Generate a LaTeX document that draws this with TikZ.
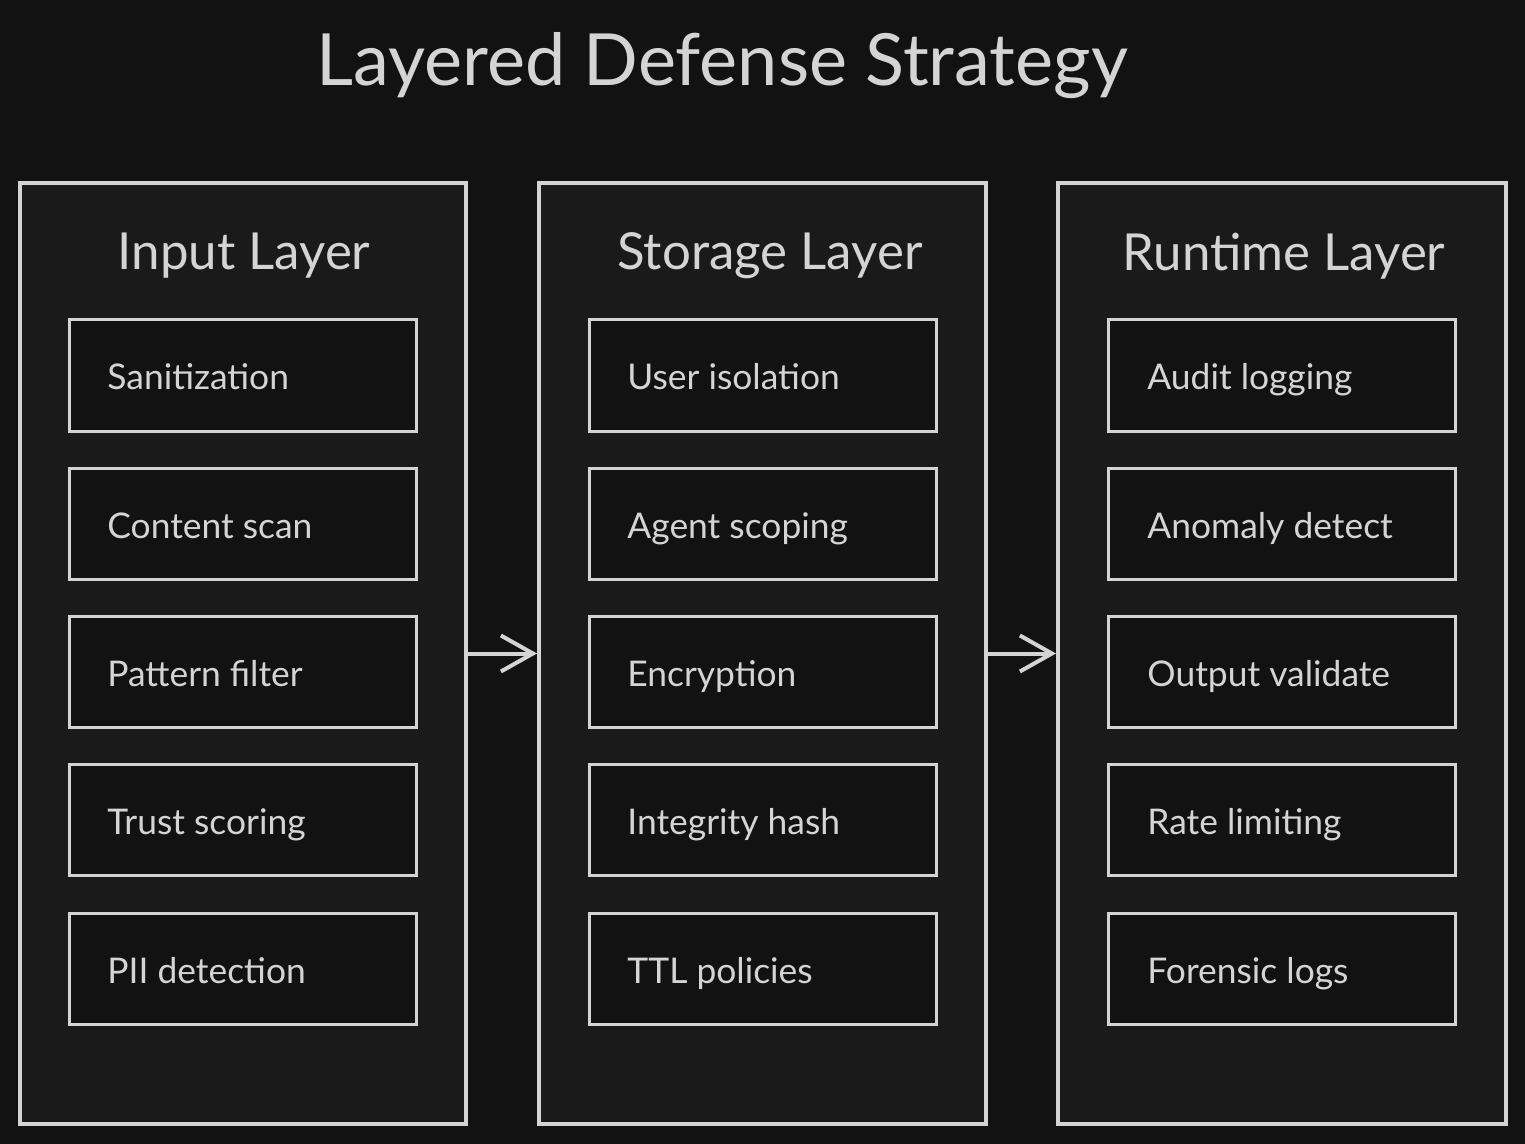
\documentclass[tikz,border=0pt]{standalone}
\usepackage{fontspec}
\setmainfont{Lato}
\usetikzlibrary{arrows.meta}
\definecolor{bg}{HTML}{121212}
\definecolor{panel}{HTML}{1A1A1A}
\definecolor{inner}{HTML}{121212}
\definecolor{fg}{HTML}{D4D4D4}
\begin{document}
\begin{tikzpicture}[x=0.5pt,y=-0.5pt,
  panelbox/.style={draw=fg,fill=panel,line width=2pt},
  itembox/.style={draw=fg,fill=inner,line width=1.5pt,minimum width=173.5pt,minimum height=55.5pt,inner sep=0pt},
  itemtext/.style={text=fg,font=\fontsize{17.7}{20}\selectfont,anchor=base west,inner sep=0pt},
  layertitle/.style={text=fg,font=\fontsize{25.5}{30}\selectfont},
  flow/.style={draw=fg,line width=2pt,-{Straight Barb[length=16pt,width=18pt,line width=2pt]}}
]
\fill[bg] (0,0) rectangle (1525,1144);
\useasboundingbox (0,0) rectangle (1525,1144);
\node[text=fg,font=\fontsize{36}{40}\selectfont] (title) at (722,66) {Layered Defense Strategy};
% panels
\node[panelbox,minimum width=223pt,minimum height=470.5pt,inner sep=0pt] (pin) at (243,653.5) {};
\node[panelbox,minimum width=223.5pt,minimum height=470.5pt,inner sep=0pt] (pst) at (762.5,653.5) {};
\node[panelbox,minimum width=224pt,minimum height=470.5pt,inner sep=0pt] (prt) at (1282,653.5) {};
\node[layertitle] (tin) at (244,256) {Input Layer};
\node[layertitle] (tst) at (770,256) {Storage Layer};
\node[layertitle] (trt) at (1284,256) {Runtime Layer};
% items
\foreach \n/\t [count=\i from 0] in {a/Sanitization,b/Content scan,c/Pattern filter,d/Trust scoring,e/PII detection}{
  \node[itembox] (in\n) at (242.5,375.5+148.25*\i) {};
  \node[itemtext] (in\n t) at (107,390+148.25*\i) {\t};
}
\foreach \n/\t [count=\i from 0] in {a/User isolation,b/Agent scoping,c/Encryption,d/Integrity hash,e/TTL policies}{
  \node[itembox] (st\n) at (762.5,375.5+148.25*\i) {};
  \node[itemtext] (st\n t) at (627,390+148.25*\i) {\t};
}
\foreach \n/\t [count=\i from 0] in {a/Audit logging,b/Anomaly detect,c/Output validate,d/Rate limiting,e/Forensic logs}{
  \node[itembox] (rt\n) at (1282,375.5+148.25*\i) {};
  \node[itemtext] (rt\n t) at (1147,390+148.25*\i) {\t};
}
\draw[flow] (pin.east) -- (pst.west);
\draw[flow] (pst.east) -- (prt.west);
\end{tikzpicture}
\end{document}
